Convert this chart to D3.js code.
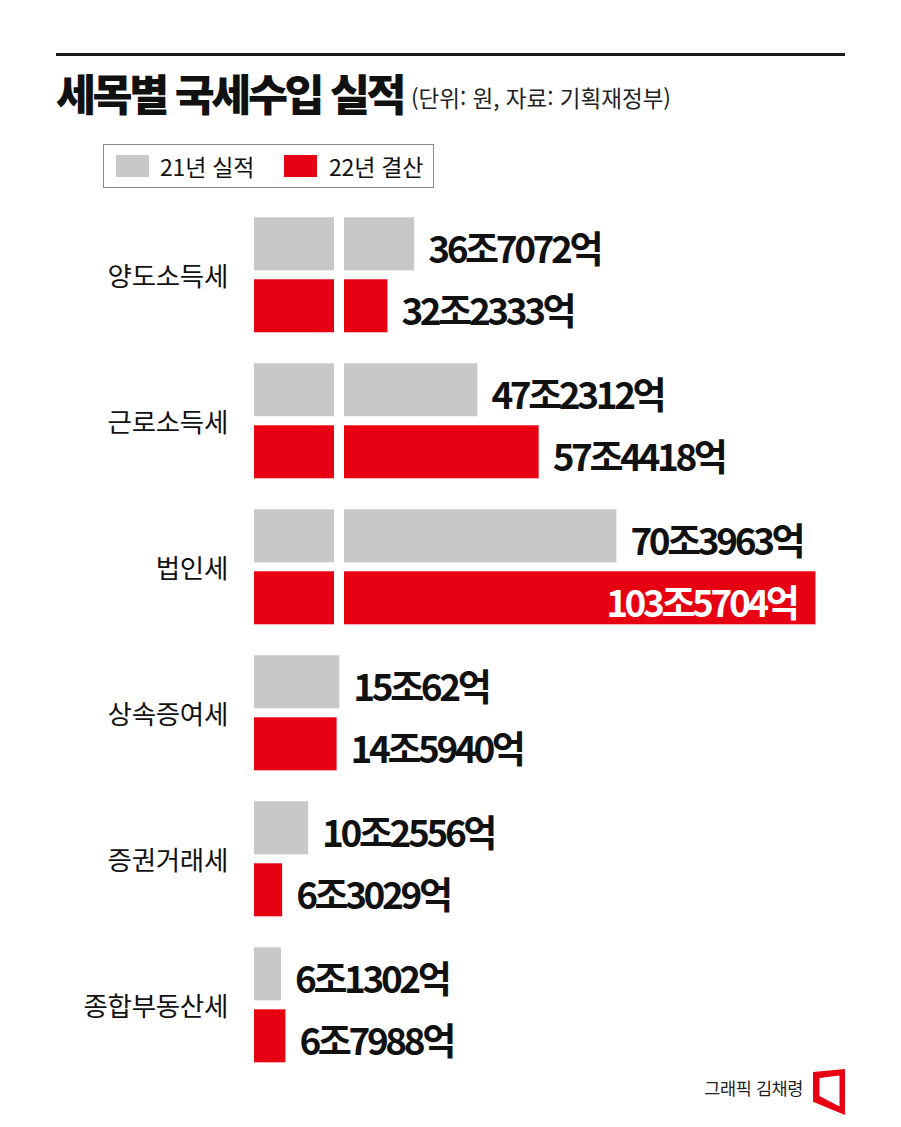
<!DOCTYPE html>
<html lang="ko">
<head>
<meta charset="utf-8">
<script src="https://cdn.jsdelivr.net/npm/d3@7"></script>
<style>
  html, body { margin: 0; padding: 0; background: #fff; }
  svg { display: block; }
  text { font-family: 'Noto Sans CJK KR', 'Noto Sans', sans-serif; }
</style>
</head>
<body>
<script>
// ---- data ----
const categories = ["양도소득세", "근로소득세", "법인세", "상속증여세", "증권거래세", "종합부동산세"];
const values21 = [36.7072, 47.2312, 70.3963, 15.0062, 10.2556, 6.1302]; // 조원, 21년 실적
const values22 = [32.2333, 57.4418, 103.5704, 14.5940, 6.3029, 6.7988]; // 조원, 22년 결산
const seriesNames = ["21년 실적", "22년 결산"];
const title = "세목별 국세수입 실적";
const subtitle = "(단위: 원, 자료: 기획재정부)";
const credit = "그래픽 김채령";

const W = 901, H = 1127;
const svg = d3.select("body").append("svg").attr("width", W).attr("height", H);

const colors = { y21: "#c8c8c8", y22: "#e60012" };

// top rule
svg.append("rect").attr("x", 56).attr("y", 53).attr("width", 789).attr("height", 3).attr("fill", "#1a1a1a");

// title
svg.append("text").attr("x", 56).attr("y", 111)
  .attr("font-size", 43.5).attr("font-weight", 900).attr("letter-spacing", -3.4)
  .attr("fill", "#111").text(title);
svg.append("text").attr("x", 411).attr("y", 107)
  .attr("font-size", 22.5).attr("font-weight", 400).attr("letter-spacing", 0)
  .attr("fill", "#222").text(subtitle);

// legend
const lg = svg.append("g");
lg.append("rect").attr("x", 103.5).attr("y", 144.5).attr("width", 330).attr("height", 43)
  .attr("fill", "#fff").attr("stroke", "#8a8a8a").attr("stroke-width", 1);
const legendItems = [
  { key: "y21", name: seriesNames[0], sx: 116, tx: 160 },
  { key: "y22", name: seriesNames[1], sx: 284, tx: 329 }
];
legendItems.forEach(d => {
  lg.append("rect").attr("x", d.sx).attr("y", 155).attr("width", 33).attr("height", 22).attr("fill", colors[d.key]);
  lg.append("text").attr("x", d.tx).attr("y", 166).attr("dominant-baseline", "central")
    .attr("font-size", 23).attr("fill", "#111").attr("letter-spacing", -0.2).text(d.name);
});

// scales
const y = d3.scaleBand().domain(categories).range([201.8, 1077.8]).paddingInner(0.2123).paddingOuter(0.106);
const ySub = d3.scaleBand().domain(["y21", "y22"]).range([0, y.bandwidth()]).paddingInner(0.145);

// broken axis: short bars on xShort; long bars drawn as [254, breakPx] + [resumePx, xLong(v)]
const BREAK_THRESHOLD = 25;
const xShort = d3.scaleLinear().domain([2.02, 16]).range([254, 254 + 6.57 * (16 - 2.02)]);
const breakEnd = 334;
const xLong = d3.scaleLinear().domain([25.0, 105]).range([344, 824]);

const fmt = v => {
  const jo = Math.floor(v);
  const eok = Math.round((v - jo) * 10000);
  return jo + "조" + eok + "억";
};

const rows = [];
categories.forEach((c, i) => {
  rows.push({ cat: c, key: "y21", v: values21[i] });
  rows.push({ cat: c, key: "y22", v: values22[i] });
});

const bars = svg.append("g");
rows.forEach(d => {
  const top = y(d.cat) + ySub(d.key);
  const h = ySub.bandwidth();
  let end;
  if (d.v > BREAK_THRESHOLD) {
    bars.append("rect").attr("x", xShort(2.02)).attr("y", top).attr("width", breakEnd - xShort(2.02)).attr("height", h).attr("fill", colors[d.key]);
    bars.append("rect").attr("x", xLong.range()[0]).attr("y", top).attr("width", xLong(d.v) - xLong.range()[0]).attr("height", h).attr("fill", colors[d.key]);
    end = xLong(d.v);
  } else {
    bars.append("rect").attr("x", xShort(2.02)).attr("y", top).attr("width", xShort(d.v) - xShort(2.02)).attr("height", h).attr("fill", colors[d.key]);
    end = xShort(d.v);
  }
  d.end = end; d.cy = top + h / 2;
});

// value labels
const maxV = d3.max(values22.concat(values21));
const labels = svg.append("g");
rows.forEach(d => {
  const inside = d.v === maxV;
  labels.append("text")
    .attr("x", inside ? d.end - 19 : d.end + 14)
    .attr("y", d.cy + 3)
    .attr("dominant-baseline", "central")
    .attr("text-anchor", inside ? "end" : "start")
    .attr("font-size", 37).attr("font-weight", 700).attr("letter-spacing", -3.4)
    .attr("fill", inside ? "#fff" : "#111")
    .text(fmt(d.v));
});

// category labels
svg.append("g").selectAll("text").data(categories).join("text")
  .attr("x", 228).attr("y", d => y(d) + y.bandwidth() / 2)
  .attr("dominant-baseline", "central").attr("text-anchor", "end")
  .attr("font-size", 26.5).attr("letter-spacing", -0.3).attr("fill", "#111")
  .text(d => d);

// credit + logo
svg.append("text").attr("x", 803).attr("y", 1087).attr("dominant-baseline", "central")
  .attr("text-anchor", "end").attr("font-size", 17.5).attr("letter-spacing", -0.4).attr("fill", "#222").text(credit);
svg.append("path")
  .attr("d", "M813,1072 L845,1069 L845,1115 L813,1101.7 Z M819.5,1078 L819.5,1096 L839.5,1106.5 L839.5,1075.5 Z")
  .attr("fill", "#e60012").attr("fill-rule", "evenodd");
</script>
</body>
</html>
